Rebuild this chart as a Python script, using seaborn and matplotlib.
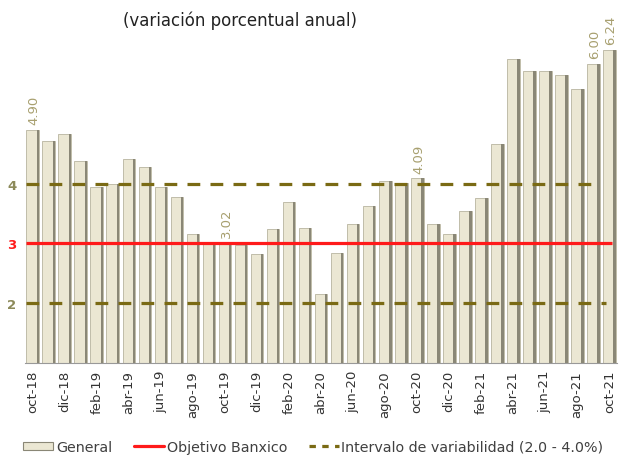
import numpy as np
import pandas as pd
import matplotlib
matplotlib.use("Agg")
import matplotlib.pyplot as plt
import seaborn as sns
from matplotlib.patches import Patch
from matplotlib.lines import Line2D

months = ['oct-18', 'nov-18', 'dic-18', 'ene-19', 'feb-19', 'mar-19', 'abr-19', 'may-19',
          'jun-19', 'jul-19', 'ago-19', 'sep-19', 'oct-19', 'nov-19', 'dic-19', 'ene-20',
          'feb-20', 'mar-20', 'abr-20', 'may-20', 'jun-20', 'jul-20', 'ago-20', 'sep-20',
          'oct-20', 'nov-20', 'dic-20', 'ene-21', 'feb-21', 'mar-21', 'abr-21', 'may-21',
          'jun-21', 'jul-21', 'ago-21', 'sep-21', 'oct-21']
general = [4.90, 4.72, 4.83, 4.37, 3.94, 4.00, 4.41, 4.28, 3.95, 3.78, 3.16, 3.00,
           3.02, 2.97, 2.83, 3.24, 3.70, 3.25, 2.15, 2.84, 3.33, 3.62, 4.05, 4.01,
           4.09, 3.33, 3.15, 3.54, 3.76, 4.67, 6.08, 5.89, 5.88, 5.81, 5.59, 6.00, 6.24]
labeled = ['oct-18', 'oct-19', 'oct-20', 'sep-21', 'oct-21']
objetivo = 3.0
intervalo = [2.0, 4.0]

df = pd.DataFrame({'mes': months, 'inflacion': general})

sns.set_style('white')
plt.rcParams['font.family'] = ['DejaVu Sans']

bar_col = '#ebe7d3'
shadow_col = '#8a8776'
red = '#ff1a1a'
olive = '#7a6a14'
label_col = '#a8a070'

fig = plt.figure(figsize=(6.21, 4.56), dpi=100)
ax = fig.add_axes([0.040, 0.2018, 0.954, 0.7868])

sns.barplot(data=df, x='mes', y='inflacion', color=bar_col, width=0.8,
            edgecolor='#b8b4a0', linewidth=0.6, saturation=1, ax=ax)
x = np.arange(len(months))
# dark right edge, gives the bars their rounded look
ax.bar(x + 0.32, df['inflacion'] - 1, bottom=1, width=0.16, color=shadow_col, linewidth=0)

ax.hlines(objetivo, -0.4, 36.2, color=red, lw=2.3, zorder=5)
ax.hlines(intervalo[1], -0.4, 35.5, color=olive, lw=2.3, linestyle=(0, (4, 3.2)), zorder=5)
ax.hlines(intervalo[0], -0.4, 35.8, color=olive, lw=2.3, linestyle=(0, (4, 3.2)), zorder=5)

for m in labeled:
    i = months.index(m)
    v = general[i]
    ax.annotate(f'{v:.2f}', (i, v), xytext=(1, 4), textcoords='offset points',
                rotation=90, ha='center', va='bottom', color=label_col, fontsize=9.5)

ax.set_ylim(1, 7)
ax.set_xlim(-0.5, 36.5)
ax.set_xlabel('')
ax.set_ylabel('')
ax.set_yticks([2, 3, 4])
ax.set_yticklabels(['2', '3', '4'], fontsize=9.5, fontweight='bold')
for t, c in zip(ax.get_yticklabels(), ['#8c8a5a', red, '#8c8a5a']):
    t.set_color(c)
ax.tick_params(axis='y', length=0, pad=6)

ax.set_xticks(x[::2])
ax.set_xticklabels(months[::2], rotation=90, fontsize=9.5, color='#333333')
ax.set_xticks(x[:-1] + 0.5, minor=True)
ax.tick_params(axis='x', which='major', length=0, pad=5)
ax.tick_params(axis='x', which='minor', length=4, color='#999999', width=0.8)

for s in ['top', 'right', 'left']:
    ax.spines[s].set_visible(False)
ax.spines['bottom'].set_color('#999999')
ax.spines['bottom'].set_linewidth(0.8)

fig.text(240 / 621, 1 - 21 / 456, '(variación porcentual anual)', ha='center', va='center',
         fontsize=12, color='#222222')

handles = [Patch(facecolor=bar_col, edgecolor=shadow_col, linewidth=0.8),
           Line2D([0], [0], color=red, lw=2.3),
           Line2D([0], [0], color=olive, lw=2.3, linestyle=(0, (2, 2)))]
fig.legend(handles, ['General', 'Objetivo Banxico', 'Intervalo de variabilidad (2.0 - 4.0%)'],
           loc='center left', bbox_to_anchor=(0.026, 1 - 448 / 456), ncol=3, frameon=False,
           fontsize=10.3, handlelength=2.1, handleheight=0.5, handletextpad=0.2,
           columnspacing=1.5, labelcolor='#404040', borderpad=0)

fig.savefig('out.png', dpi=100)
